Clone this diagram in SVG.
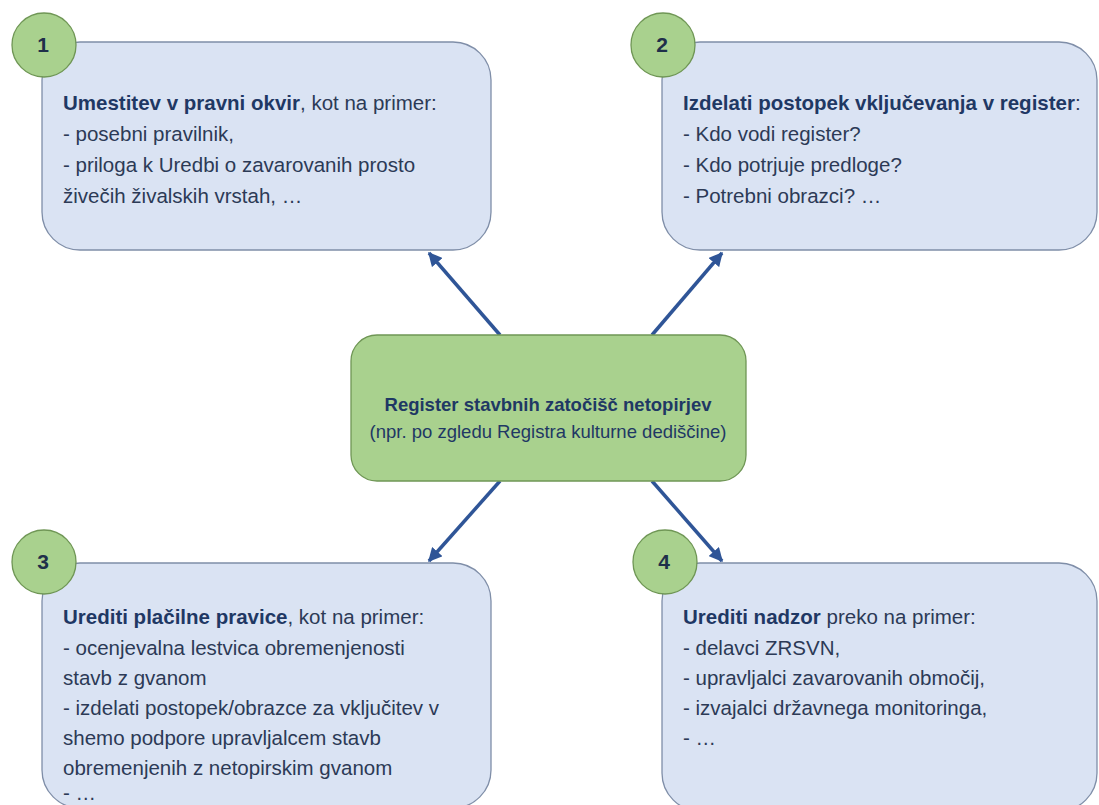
<svg xmlns="http://www.w3.org/2000/svg" width="1099" height="805" viewBox="0 0 1099 805">
<defs>
<style>
.box{fill:#dae3f3;stroke:#7f8ea8;stroke-width:1.3}
.badge{fill:#a9d18e;stroke:#6f9655;stroke-width:1.3}
.center{fill:#a9d18e;stroke:#6f9655;stroke-width:1.3}
.t{font-family:"Liberation Sans",Arial,sans-serif;font-size:20.5px;fill:#2c3a56}
.b{font-weight:bold;fill:#1f3864}
.num{font-family:"Liberation Sans",Arial,sans-serif;font-size:21px;font-weight:bold;fill:#1f2f4a;text-anchor:middle}
.ct{font-family:"Liberation Sans",Arial,sans-serif;font-size:18.5px;fill:#1f3864;text-anchor:middle}
.conn{stroke:#2f5597;stroke-width:3.5;fill:none;marker-end:url(#ah)}
</style>
<marker id="ah" viewBox="0 0 10 10" refX="9" refY="5" markerWidth="4" markerHeight="4" orient="auto" markerUnits="strokeWidth">
<path d="M0,0 L10,5 L0,10 Z" fill="#2f5597"/>
</marker>
</defs>
<rect width="1099" height="805" fill="#ffffff"/>

<g id="connectors">
<line class="conn" x1="500" y1="335" x2="429" y2="253"/>
<line class="conn" x1="652" y1="335" x2="722" y2="253"/>
<line class="conn" x1="500" y1="481" x2="429" y2="561"/>
<line class="conn" x1="652" y1="481" x2="722" y2="561"/>
</g>

<g id="node1">
<rect class="box" x="42" y="42" width="449" height="208" rx="38"/>
<circle class="badge" cx="44" cy="45" r="32"/>
<text class="num" x="43" y="52">1</text>
<text class="t" x="63" y="110"><tspan class="b">Umestitev v pravni okvir</tspan>, kot na primer:</text>
<text class="t" x="63" y="141">- posebni pravilnik,</text>
<text class="t" x="63" y="172">- priloga k Uredbi o zavarovanih prosto</text>
<text class="t" x="63" y="203">živečih živalskih vrstah, …</text>
</g>

<g id="node2">
<rect class="box" x="662" y="42" width="435" height="208" rx="38"/>
<circle class="badge" cx="663" cy="45" r="32"/>
<text class="num" x="662" y="52">2</text>
<text class="t" x="683" y="110"><tspan class="b">Izdelati postopek vključevanja v register</tspan>:</text>
<text class="t" x="683" y="141">- Kdo vodi register?</text>
<text class="t" x="683" y="172">- Kdo potrjuje predloge?</text>
<text class="t" x="683" y="203">- Potrebni obrazci? …</text>
</g>

<g id="node-center">
<rect class="center" x="351" y="335" width="395" height="146" rx="26"/>
<text class="ct" x="548" y="411" font-weight="bold">Register stavbnih zatočišč netopirjev</text>
<text class="ct" x="548" y="438">(npr. po zgledu Registra kulturne dediščine)</text>
</g>

<g id="node3">
<rect class="box" x="42" y="563" width="449" height="245" rx="38"/>
<circle class="badge" cx="44" cy="562" r="32"/>
<text class="num" x="43" y="569">3</text>
<text class="t" x="63" y="624"><tspan class="b">Urediti plačilne pravice</tspan>, kot na primer:</text>
<text class="t" x="63" y="655">- ocenjevalna lestvica obremenjenosti</text>
<text class="t" x="63" y="685">stavb z gvanom</text>
<text class="t" x="63" y="715">- izdelati postopek/obrazce za vključitev v</text>
<text class="t" x="63" y="745">shemo podpore upravljalcem stavb</text>
<text class="t" x="63" y="775">obremenjenih z netopirskim gvanom</text>
<text class="t" x="63" y="800">- …</text>
</g>

<g id="node4">
<rect class="box" x="662" y="563" width="435" height="248" rx="38"/>
<circle class="badge" cx="665" cy="562" r="32"/>
<text class="num" x="664" y="569">4</text>
<text class="t" x="683" y="624"><tspan class="b">Urediti nadzor</tspan> preko na primer:</text>
<text class="t" x="683" y="655">- delavci ZRSVN,</text>
<text class="t" x="683" y="685">- upravljalci zavarovanih območij,</text>
<text class="t" x="683" y="715">- izvajalci državnega monitoringa,</text>
<text class="t" x="683" y="745">- …</text>
</g>
</svg>
